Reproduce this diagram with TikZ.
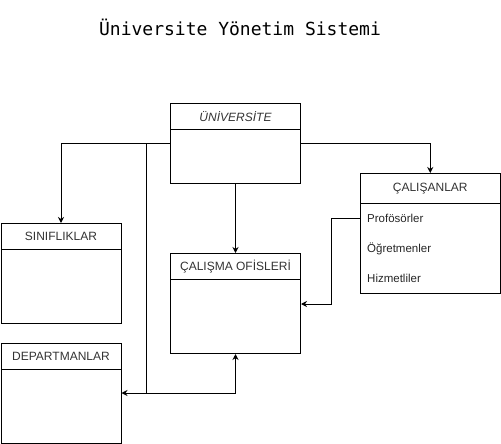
\documentclass[tikz,border=0pt]{standalone}
\usepackage{fontspec}
\setmainfont{Liberation Sans}
\newfontfamily\titlefont{DejaVu Sans Mono}
\usetikzlibrary{arrows.meta}
\tikzset{
  hdr/.style={draw=black, line width=1pt, anchor=north west, inner sep=0pt, font=\fontsize{12}{14}\selectfont, text=black!80},
  bodybox/.style={draw=black, line width=1pt, anchor=north west, inner sep=0pt},
  item/.style={anchor=west, inner sep=0pt, font=\fontsize{11.5}{13}\selectfont, text=black!85},
  arr/.style={draw=black, line width=1pt, -{Stealth[length=6pt,width=6pt]}},
  ln/.style={draw=black, line width=1pt}
}
\begin{document}
\begin{tikzpicture}[x=1pt,y=-1pt]
\useasboundingbox (0,0) rectangle (501,444);
\node[font=\titlefont\fontsize{18}{20}\selectfont] (title) at (240,27) {Üniversite Yönetim Sistemi};
% ÜNİVERSİTE
\node[hdr, minimum width=130pt, minimum height=26pt, font=\itshape\fontsize{12}{14}\selectfont] (uniH) at (170,103) {ÜNİVERSİTE};
\node[bodybox, minimum width=130pt, minimum height=54pt] (uni) at (170,129) {};
% ÇALIŞANLAR
\node[hdr, minimum width=139.5pt, minimum height=30pt] (calH) at (360,173) {ÇALIŞANLAR};
\node[bodybox, minimum width=139.5pt, minimum height=90pt] (cal) at (360,203) {};
\node[item] (pro) at (367,218) {Profösörler};
\node[item] (ogr) at (367,248.5) {Öğretmenler};
\node[item] (hiz) at (367,278) {Hizmetliler};
% ÇALIŞMA OFİSLERİ
\node[hdr, minimum width=130pt, minimum height=26pt] (ofsH) at (170,253) {ÇALIŞMA OFİSLERİ};
\node[bodybox, minimum width=130pt, minimum height=74pt] (ofs) at (170,279) {};
% SINIFLIKLAR
\node[hdr, minimum width=120pt, minimum height=26pt] (sinH) at (0.5,223) {SINIFLIKLAR};
\node[bodybox, minimum width=120pt, minimum height=74pt] (sin) at (0.5,249) {};
% DEPARTMANLAR
\node[hdr, minimum width=120pt, minimum height=26pt] (depH) at (0.5,343) {DEPARTMANLAR};
\node[bodybox, minimum width=120pt, minimum height=73.5pt] (dep) at (0.5,369) {};
% connectors
\coordinate (j0) at (146,143);
\coordinate (j1) at (146,393);
\coordinate (j2) at (331,304);
\draw[arr] ([yshift=-14pt]uni.north west) -| (sinH.north);
\draw[arr] ([yshift=-14pt]uni.north west) -- (j0) -- (j1) -- (dep.east |- j1);
\draw[arr] (j1) -| (ofs.south);
\draw[arr] (uni.south) -- (ofsH.north);
\draw[arr] ([yshift=-14pt]uni.north east) -| (calH.north);
\draw[arr] (cal.west |- pro) -| (j2) -- (ofs.east |- j2);
\end{tikzpicture}
\end{document}
